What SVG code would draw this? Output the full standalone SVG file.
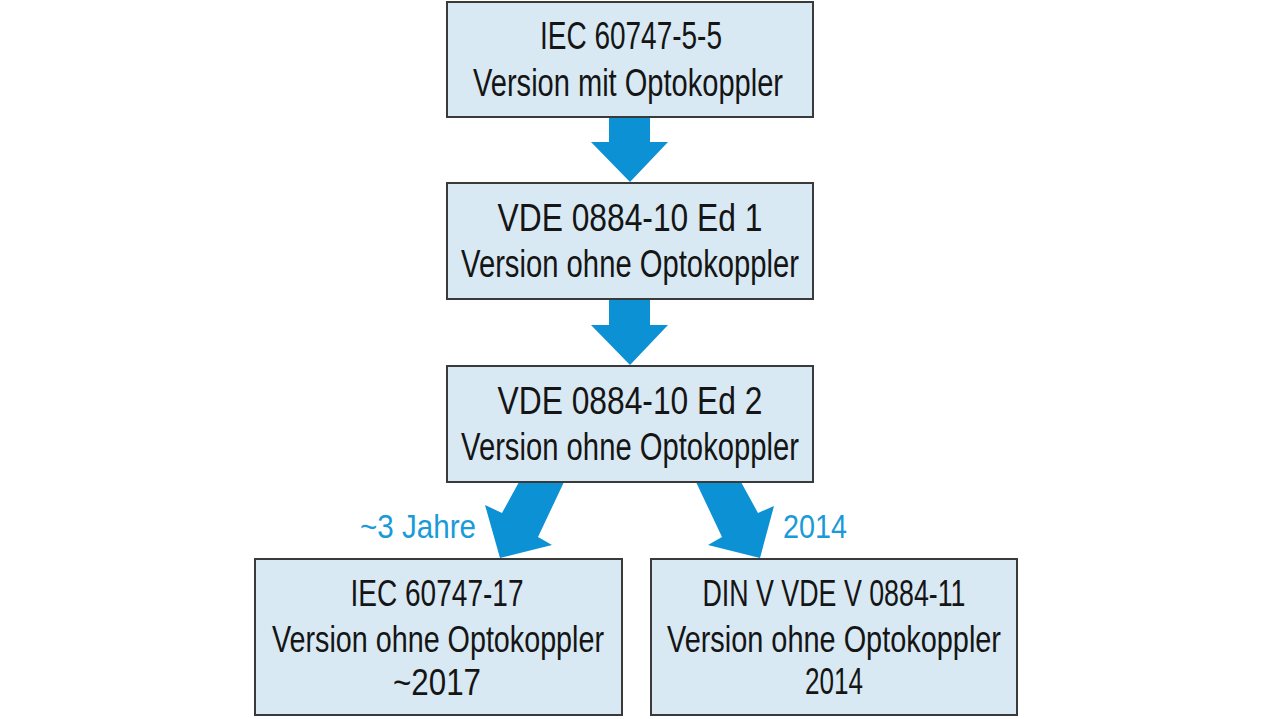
<svg xmlns="http://www.w3.org/2000/svg" width="1280" height="719" viewBox="0 0 1280 719">
<style>
.box{fill:#d8e9f4;stroke:#3a3a3a;stroke-width:2}
.t{font-family:"Liberation Sans Narrow","Liberation Sans",Arial,sans-serif;font-size:39px;fill:#151515;text-anchor:middle}
.s{font-size:36px}
.lbl{font-family:"Liberation Sans Narrow","Liberation Sans",Arial,sans-serif;font-size:34px;fill:#1a9ad8}
.arr{fill:#0d91d5}
</style>
<rect width="1280" height="719" fill="#ffffff"/>
<g id="connectors">
<polygon class="arr" points="609,117 650,117 650,142 668,142 630,182 591,142 609,142"/>
<polygon class="arr" points="609,299 650,299 650,325 668,325 630,365 591,325 609,325"/>
<polygon class="arr" points="519,482 564,482 538,537 552,545 500,558 485,505 502,513"/>
<polygon class="arr" points="696,482 741,482 758,513 774,506 760,558 708,545 722,537"/>
<text class="lbl" x="360" y="538" textLength="116" lengthAdjust="spacingAndGlyphs">~3 Jahre</text>
<text class="lbl" x="783" y="538" textLength="64" lengthAdjust="spacingAndGlyphs">2014</text>
</g>
<g id="n1">
<rect class="box" x="447" y="2" width="366" height="115"/>
<text class="t" x="631" y="49" textLength="182" lengthAdjust="spacingAndGlyphs">IEC 60747-5-5</text>
<text class="t" x="628" y="96" textLength="310" lengthAdjust="spacingAndGlyphs">Version mit Optokoppler</text>
</g>
<g id="n2">
<rect class="box" x="447" y="183" width="366" height="116"/>
<text class="t" x="630" y="231" textLength="265" lengthAdjust="spacingAndGlyphs">VDE 0884-10 Ed 1</text>
<text class="t" x="630" y="277" textLength="338" lengthAdjust="spacingAndGlyphs">Version ohne Optokoppler</text>
</g>
<g id="n3">
<rect class="box" x="447" y="366" width="366" height="116"/>
<text class="t" x="630" y="414" textLength="265" lengthAdjust="spacingAndGlyphs">VDE 0884-10 Ed 2</text>
<text class="t" x="630" y="460" textLength="338" lengthAdjust="spacingAndGlyphs">Version ohne Optokoppler</text>
</g>
<g id="n4">
<rect class="box" x="255" y="559" width="367" height="156"/>
<text class="t s" x="437" y="606" textLength="173" lengthAdjust="spacingAndGlyphs">IEC 60747-17</text>
<text class="t s" x="438" y="652" textLength="332" lengthAdjust="spacingAndGlyphs">Version ohne Optokoppler</text>
<text class="t s" x="437" y="695" textLength="88" lengthAdjust="spacingAndGlyphs">~2017</text>
</g>
<g id="n5">
<rect class="box" x="651" y="559" width="366" height="156"/>
<text class="t s" x="834" y="606" textLength="263" lengthAdjust="spacingAndGlyphs">DIN V VDE V 0884-11</text>
<text class="t s" x="834" y="652" textLength="334" lengthAdjust="spacingAndGlyphs">Version ohne Optokoppler</text>
<text class="t s" x="834" y="694" textLength="58" lengthAdjust="spacingAndGlyphs">2014</text>
</g>
</svg>
